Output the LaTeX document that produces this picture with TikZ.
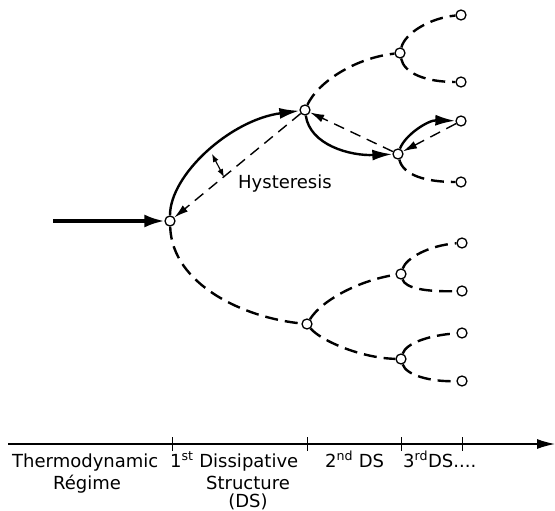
\documentclass[tikz,border=0pt]{standalone}
\usepackage{fontspec}
\setmainfont{DejaVu Sans}
\usetikzlibrary{arrows.meta}
\begin{document}
\begin{tikzpicture}[x=1pt,y=-1pt,
  st/.style={circle,draw,fill=white,minimum size=10pt,inner sep=0pt,line width=1.3pt},
  solidc/.style={line width=2.4pt},
  dashc/.style={line width=2.4pt,dash pattern=on 13pt off 7pt},
  thind/.style={line width=1.4pt,dash pattern=on 11pt off 7pt},
  bigtip/.style={-{Latex[length=20pt,width=11pt]}},
  smalltip/.style={-{Latex[length=14pt,width=8pt]}},
  lbl/.style={font=\fontsize{18}{21}\selectfont, inner sep=0pt}
]
\useasboundingbox (0,0) rectangle (555,511);
% states
\node[st] (A) at (170,221) {};
\node[st] (B) at (305,110) {};
\node[st] (C) at (307,324) {};
\node[st] (D) at (400,53) {};
\node[st] (E) at (398,154) {};
\node[st] (F) at (401,274) {};
\node[st] (G) at (401,359) {};
\node[st] (L1) at (461,15) {};
\node[st] (L2) at (461,82) {};
\node[st] (L3) at (461,121) {};
\node[st] (L4) at (461,182) {};
\node[st] (L5) at (462,243) {};
\node[st] (L6) at (462,291) {};
\node[st] (L7) at (462,333) {};
\node[st] (L8) at (462,381) {};
% input
\coordinate (in) at (53,221);
\draw[line width=3.2pt,-{Latex[length=20pt,width=13pt]}] (in) -- (A);
% first branch
\draw[solidc,bigtip] (A) .. controls (170,175) and (230,120) .. (B);
\draw[thind,smalltip] (B) -- (A);
\draw[dashc] (A) .. controls (172,285) and (245,318) .. (C);
% hysteresis
\coordinate (h1) at (212,154);
\coordinate (h2) at (224,177);
\draw[line width=1.1pt,{Latex[length=8pt,width=6pt]}-{Latex[length=8pt,width=6pt]}] (h1) -- (h2);
\node[lbl,anchor=base west] (hys) at (238,188) {Hysteresis};
% second branch upper
\draw[dashc] (B) .. controls (318,82) and (355,58) .. (D);
\draw[solidc,bigtip] (B) .. controls (310,145) and (350,156) .. (E);
\draw[thind,smalltip] (E) -- (B);
% third branches
\draw[dashc] (D) .. controls (405,33) and (430,18) .. (L1);
\draw[dashc] (D) .. controls (404,73) and (425,82) .. (L2);
\draw[solidc,bigtip] (E) .. controls (405,135) and (428,120) .. (L3);
\draw[thind,smalltip] (L3) -- (E);
\draw[dashc] (E) .. controls (403,175) and (425,182) .. (L4);
% lower
\draw[dashc] (C) .. controls (322,300) and (360,280) .. (F);
\draw[dashc] (C) .. controls (320,340) and (360,358) .. (G);
\draw[dashc] (F) .. controls (406,258) and (430,245) .. (L5);
\draw[dashc] (F) .. controls (405,288) and (425,292) .. (L6);
\draw[dashc] (G) .. controls (406,343) and (430,335) .. (L7);
\draw[dashc] (G) .. controls (406,375) and (430,382) .. (L8);
% axis
\coordinate (ax0) at (8,444);
\coordinate (ax1) at (555,444);
\draw[line width=1.4pt,-{Latex[length=18pt,width=10pt]}] (ax0) -- (ax1);
\foreach \x in {172,307,401,462} \draw[line width=1pt] (\x,437) -- (\x,451);
\node[lbl,anchor=base west] (t1) at (12,467) {Thermodynamic};
\node[lbl,anchor=base] (t2) at (87,489) {Régime};
\node[lbl,anchor=base west] (t3) at (170,467) {1\textsuperscript{st} Dissipative};
\node[lbl,anchor=base] (t4) at (248,489) {Structure};
\node[lbl,anchor=base] (t5) at (248,507) {(DS)};
\node[lbl,anchor=base west] (t6) at (325,467) {2\textsuperscript{nd} DS};
\node[lbl,anchor=base west] (t7) at (403,467) {3\textsuperscript{rd}DS....};
\end{tikzpicture}
\end{document}
